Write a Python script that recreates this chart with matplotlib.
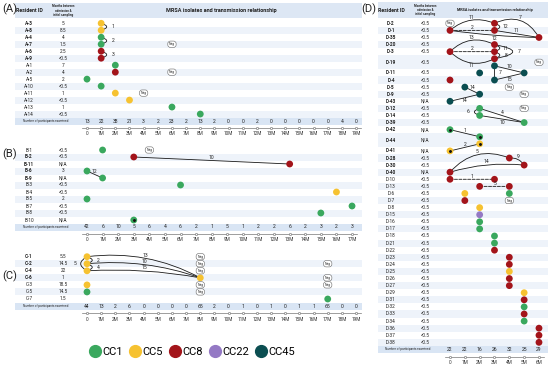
import numpy as np
import matplotlib.pyplot as plt
from matplotlib.patches import FancyArrowPatch, Rectangle
from matplotlib.lines import Line2D
from matplotlib.transforms import blended_transform_factory

plt.rcParams['font.family'] = ['Roboto', 'DejaVu Sans']

W, H = 550, 369

cc_names = ['CC1', 'CC5', 'CC8', 'CC22', 'CC45']
cc_colors = ['#3aa85e', '#f6c231', '#a3141a', '#9479c4', '#0b4e51']
col = dict(zip(cc_names, cc_colors))

# ---------------- data ----------------
# panel A
a_ids = ['A-3', 'A-8', 'A-4', 'A-7', 'A-6', 'A-9', 'A-1', 'A-2', 'A-5', 'A-10',
         'A-11', 'A-12', 'A-13', 'A-14']
a_adm = ['5', '8.5', '4', '1.5', '2.5', '<0.5', '7', '4', '2', '<0.5', '1', '<0.5', '1', '<0.5']
a_bold = [True] * 6 + [False] * 8
a_pts = [(0, 1, 'CC5'), (1, 1, 'CC5'), (2, 1, 'CC1'), (3, 1, 'CC1'), (4, 1, 'CC8'),
         (5, 1, 'CC8'), (6, 2, 'CC1'), (7, 2, 'CC8'), (8, 0, 'CC1'), (9, 1, 'CC1'),
         (10, 2, 'CC5'), (11, 3, 'CC5'), (12, 6, 'CC1'), (13, 8, 'CC1')]
a_neg = [(3, 6), (7, 6), (10, 4)]
a_links = [(0, 1, 1, 1, -1.6, '1', 'r', '-'),
           (2, 1, 3, 1, -1.6, '2', 'r', '-'),
           (4, 1, 5, 1, -1.6, '3', 'r', '-')]
a_counts = [13, 22, 38, 21, 3, 2, 23, 2, 13, 2, 0, 0, 2, 0, 0, 0, 0, 0, 4, 0]

# panel B
b_ids = ['B-1', 'B-2', 'B-11', 'B-6', 'B-9', 'B-3', 'B-4', 'B-5', 'B-7', 'B-8', 'B-10']
b_adm = ['<0.5', '<0.5', 'N/A', '3', 'N/A', '<0.5', '<0.5', '2', '<0.5', '<0.5', 'N/A']
b_bold = [False, True, True, True, True, False, False, False, False, False, False]
b_pts = [(0, 1, 'CC1'), (1, 3, 'CC8'), (2, 13, 'CC8'), (3, 0, 'CC1'), (4, 1, 'CC1'),
         (5, 6, 'CC1'), (6, 16, 'CC5'), (7, 0, 'CC1'), (8, 17, 'CC1'), (9, 15, 'CC1'),
         (10, 3, 'CC1')]
b_dots = [(10, 3)]
b_neg = [(0, 4)]
b_links = [(1, 3, 2, 13, 0, '10', 'u', '-'),
           (3, 0, 4, 1, 0, '12', 'u', '-')]
b_counts = [42, 6, 10, 5, 6, 4, 6, 2, 1, 5, 1, 2, 2, 6, 2, 3, 2, 3]

# panel C
c_ids = ['C-1', 'C-2', 'C-4', 'C-6', 'C-3', 'C-5', 'C-7']
c_adm = ['5.5', '14.5', '22', '1', '18.5', '14.5', '1.5']
c_bold = [True, True, True, True, False, False, False]
c_pts = [(0, 0, 'CC5'), (1, 0, 'CC5'), (2, 0, 'CC5'), (3, 8, 'CC5'), (4, 0, 'CC5'),
         (5, 0, 'CC1'), (6, 17, 'CC1')]
c_neg = [(0, 8), (1, 8), (2, 8), (4, 8), (5, 8), (1, 17), (3, 17), (4, 17)]
c_links = [(0, 0, 2, 0, 0.9, '5', 'l', '-'),
           (0, 0, 1, 0, -1.5, '2', 'r', '-'),
           (1, 0, 2, 0, -1.5, '4', 'r', '-'),
           (0, 0, 3, 8, -0.16, '13', 'u', '-'),
           (1, 0, 3, 8, -0.11, '10', 'u', '-'),
           (2, 0, 3, 8, -0.06, '15', 'u', '-')]
c_counts = [44, 13, 2, 6, 0, 0, 0, 0, 65, 2, 0, 1, 0, 1, 0, 1, 1, 65, 0, 0]

# panel D
d_ids = ['D-2', 'D-1', 'D-35', 'D-20', 'D-3', 'D-19', 'D-11', 'D-4', 'D-5', 'D-9', 'D-43',
         'D-12', 'D-14', 'D-39', 'D-42', 'D-44', 'D-41', 'D-28', 'D-30', 'D-40', 'D-10',
         'D-13', 'D-6', 'D-7', 'D-8', 'D-15', 'D-16', 'D-17', 'D-18', 'D-21', 'D-22',
         'D-23', 'D-24', 'D-25', 'D-26', 'D-27', 'D-29', 'D-31', 'D-32', 'D-33', 'D-34',
         'D-36', 'D-37', 'D-38']
d_adm = ['<0.5'] * 44
for k in ['D-43', 'D-42', 'D-44', 'D-41', 'D-40']:
    d_adm[d_ids.index(k)] = 'N/A'
d_bold = [True] * 20 + [False] * 24
d_heights = [1] * 44
d_heights[5] = 2
d_heights[15] = 2
d_pts = [(0, 3, 'CC8'), (1, 0, 'CC8'), (1, 3, 'CC8'), (2, 6, 'CC8'), (3, 3, 'CC8'),
         (4, 0, 'CC8'), (4, 3, 'CC8'), (5, 3, 'CC8'), (6, 3, 'CC45'), (7, 2, 'CC45'),
         (7, 5, 'CC45'), (8, 0, 'CC8'), (8, 3, 'CC45'), (9, 1, 'CC45'), (10, 2, 'CC45'),
         (11, 0, 'CC45'), (12, 2, 'CC1'), (13, 2, 'CC1'), (14, 5, 'CC1'), (15, 0, 'CC1'),
         (16, 2, 'CC1'), (17, 2, 'CC5'), (18, 0, 'CC5'), (19, 4, 'CC8'), (20, 5, 'CC8'),
         (21, 0, 'CC8'), (22, 0, 'CC8'), (22, 3, 'CC8'), (23, 2, 'CC8'), (23, 4, 'CC8'),
         (24, 1, 'CC5'), (24, 4, 'CC1'), (25, 1, 'CC8'), (26, 2, 'CC5'), (27, 2, 'CC22'),
         (28, 2, 'CC1'), (29, 2, 'CC1'), (30, 3, 'CC1'), (31, 3, 'CC1'), (32, 3, 'CC8'),
         (33, 4, 'CC8'), (34, 4, 'CC8'), (35, 4, 'CC5'), (36, 4, 'CC8'), (37, 4, 'CC8'),
         (38, 5, 'CC5'), (39, 5, 'CC8'), (40, 5, 'CC1'), (41, 5, 'CC8'), (42, 5, 'CC1'),
         (43, 6, 'CC8'), (44, 6, 'CC8'), (45, 6, 'CC8')]
d_dots = [(15, 0), (16, 2), (17, 2), (18, 0)]
d_neg = [(0, 0), (5.5, 6), (9, 4), (10, 5), (12, 5), (25, 4)]
d_links = [(1, 0, 0, 3, -0.3, '11', 'u', '-'),
           (1, 0, 1, 3, 0, '2', 'u', '--'),
           (1, 0, 2, 6, 0.03, '12', 'd', '-'),
           (0, 3, 2, 6, -0.45, '7', 'u', '-'),
           (0, 3, 1, 3, -1.5, '12', 'r', '-'),
           (1, 3, 2, 6, 0, '11', 'u', '-'),
           (4, 0, 3, 3, -0.35, '13', 'u', '-'),
           (4, 0, 4, 3, 0, '2', 'u', '--'),
           (4, 0, 5, 3, 0.35, '11', 'd', '-'),
           (3, 3, 4, 3, -1.5, '11', 'r', '-'),
           (4, 3, 5, 3, -1.5, '8', 'r', '-'),
           (3, 3, 5, 3, -2.6, '7', 'r', '-'),
           (6, 3, 7, 5, 0, '10', 'u', '-'),
           (6, 3, 8, 3, 0, '7', 'r', '-'),
           (8, 3, 7, 5, 0, '15', 'd', '-'),
           (9, 1, 10, 2, 0, '14', 'u', '-'),
           (11, 0, 10, 2, 0, '14', 'd', '-'),
           (12, 2, 14, 5, 0, '4', 'u', '-'),
           (13, 2, 14, 5, 0, '10', 'd', '-'),
           (12, 2, 13, 2, 1.5, '6', 'l', '-'),
           (15, 0, 16, 2, 0, '1', 'u', '-'),
           (18, 0, 17, 2, 0, '2', 'u', '-'),
           (21, 0, 19, 4, -0.35, '5', 'u', '-'),
           (21, 0, 20, 5, -0.1, '14', 'u', '-'),
           (19, 4, 20, 5, -0.3, '9', 'u', '-'),
           (22, 0, 22, 3, 0, '1', 'u', '--'),
           (23, 2, 23, 4, 0, '5', 'u', '--')]
d_counts = [22, 22, 16, 26, 32, 25, 29]

# ---------------- drawing ----------------
fig = plt.figure(figsize=(5.5, 3.69), dpi=100)
fig.patch.set_facecolor('white')

label_off = {'r': (6, 0), 'l': (-6, 0), 'u': (0, 3), 'd': (0, -3)}


def make_axes(top, unit, x0, ppm, n_mo, ylim):
    left = x0 - 0.5 * ppm
    right = x0 + (n_mo - 0.5) * ppm
    y_top = top + ylim[0] * unit
    y_bot = top + ylim[1] * unit
    ax = fig.add_axes([left / W, 1 - y_bot / H, (right - left) / W, (y_bot - y_top) / H])
    ax.set_xlim(-0.5, n_mo - 0.5)
    ax.set_ylim(ylim[1], ylim[0])
    ax.axis('off')
    tr = blended_transform_factory(fig.transFigure, ax.transData)
    return ax, tr


def link(ax, r1, m1, r2, m2, rad, label, pos, ls):
    ax.add_patch(FancyArrowPatch((m1, r1), (m2, r2), connectionstyle=f'arc3,rad={rad}',
                                 arrowstyle='-', lw=0.6, color='#1a1a1a', linestyle=ls,
                                 shrinkA=0, shrinkB=0, zorder=2, clip_on=False))
    a = ax.transData.transform((m1, r1))
    b = ax.transData.transform((m2, r2))
    d = b - a
    pt = (a + b) / 2 + 0.5 * rad * np.array([d[1], -d[0]]) + np.array(label_off[pos])
    x, y = ax.transData.inverted().transform(pt)
    ax.text(x, y, label, fontsize=3.6, ha='center', va='center', color='#222', zorder=4)


def fill_panel(ax, tr, ids, adm, bold, heights, pts, neg, links, counts, id_x, adm_x, band,
               dots=()):
    n_mo = len(counts)
    start = -0.5
    for i, h in enumerate(heights):
        r = start + h / 2
        if i % 2 == 1:
            ax.add_patch(Rectangle((band[0] / W, start), (band[1] - band[0]) / W, h,
                                   transform=tr, fc='#eef3fa', ec='none', zorder=0,
                                   clip_on=False))
        ax.text(id_x / W, r, ids[i], transform=tr, ha='center', va='center', fontsize=3.4,
                fontweight='bold' if bold[i] else 'normal', color='#222')
        ax.text(adm_x / W, r, adm[i], transform=tr, ha='center', va='center', fontsize=3.4,
                color='#222')
        start += h
    cy = start + 0.5
    ax.add_patch(Rectangle((band[0] / W, cy - 0.5), (band[1] - band[0]) / W, 1, transform=tr,
                           fc='#d9e5f4', ec='none', zorder=0, clip_on=False))
    ax.text((id_x + adm_x) / 2 / W, cy, 'Number of participants examined', transform=tr,
            ha='center', va='center', fontsize=2.2, color='#222')
    for m, c in enumerate(counts):
        ax.text(m, cy, str(c), ha='center', va='center', fontsize=3.6, color='#222')
    ty = cy + 1.0
    ax.plot([-0.35, n_mo - 0.65], [ty, ty], color='#777', lw=0.5, clip_on=False)
    ax.plot(np.arange(n_mo), [ty] * n_mo, 'o', ms=1.6, mfc='white', mec='#666', mew=0.4,
            clip_on=False)
    for m in range(n_mo):
        ax.text(m, cy + 1.85, '0' if m == 0 else f'{m}M', ha='center', va='center',
                fontsize=3.4, color='#333')
    for r1, m1, r2, m2, rad, label, pos, ls in links:
        link(ax, r1, m1, r2, m2, rad, label, pos, ls)
    rr = [p[0] for p in pts]
    mm = [p[1] for p in pts]
    cc = [col[p[2]] for p in pts]
    ax.scatter(mm, rr, s=24, c=cc, linewidths=0, zorder=3, clip_on=False)
    for r, m in dots:
        ax.scatter([m], [r], s=1.2, c='#111', zorder=4, clip_on=False)
    for r, m in neg:
        ax.text(m, r, 'Neg', fontsize=2.4, ha='center', va='center', color='#333', zorder=4,
                bbox=dict(boxstyle='round,pad=0.35,rounding_size=0.8', fc='white', ec='#666',
                          lw=0.4))


def header(ax, tr, id_x, adm_x, band, y0, y1, n_mo, title_size):
    ax.add_patch(Rectangle((band[0] / W, y0), (band[1] - band[0]) / W, y1 - y0, transform=tr,
                           fc='#dde7f4', ec='none', zorder=0, clip_on=False))
    ym = (y0 + y1) / 2
    ax.text(id_x / W, ym, 'Resident ID', transform=tr, ha='center', va='center',
            fontsize=3.8, fontweight='bold', color='#222')
    ax.text(adm_x / W, ym, 'Months between\nadmission &\ninitial sampling', transform=tr,
            ha='center', va='center', fontsize=2.2, fontweight='bold', color='#222',
            linespacing=1.1)
    ax.text((n_mo - 1) / 2, ym, 'MRSA isolates and transmission relationship', ha='center',
            va='center', fontsize=title_size, fontweight='bold', color='#222')


# panel A
axA, trA = make_axes(23.3, 6.98, 87, 14.16, 20, (-3.0, 16.5))
header(axA, trA, 29, 63, (15, 362), -2.9, -0.75, 20, 4.0)
fill_panel(axA, trA, a_ids, a_adm, a_bold, [1] * len(a_ids), a_pts, a_neg, a_links, a_counts,
           29, 63, (15, 362))

# panel B
axB, trB = make_axes(150, 7.0, 87, 15.59, 18, (-1.0, 13.5))
fill_panel(axB, trB, b_ids, b_adm, b_bold, [1] * len(b_ids), b_pts, b_neg, b_links, b_counts,
           29, 63, (15, 362), b_dots)

# panel C
axC, trC = make_axes(256.7, 7.05, 87, 14.16, 20, (-1.0, 9.5))
fill_panel(axC, trC, c_ids, c_adm, c_bold, [1] * len(c_ids), c_pts, c_neg, c_links, c_counts,
           29, 63, (15, 362))

# panel D
axD, trD = make_axes(23.3, 7.09, 450, 14.83, 7, (-3.0, 48.4))
header(axD, trD, 391, 425, (378, 548), -3.0, -0.75, 7, 2.7)
fill_panel(axD, trD, d_ids, d_adm, d_bold, d_heights, d_pts, d_neg, d_links, d_counts,
           391, 425, (378, 548), d_dots)

for lab, x, y in [('(A)', 2, 9), ('(B)', 2, 154), ('(C)', 2, 276), ('(D)', 361, 9)]:
    fig.text(x / W, 1 - y / H, lab, fontsize=8, ha='left', va='center', color='#222')

handles = [Line2D([], [], marker='o', ls='', ms=8.5, mfc=col[n], mec=col[n]) for n in cc_names]
fig.legend(handles, cc_names, loc='center', bbox_to_anchor=(192 / W, 1 - 352 / H), ncol=5,
           frameon=False, fontsize=8, handletextpad=0.05, columnspacing=0.5, handlelength=1.2)

fig.savefig('out.png', dpi=100)
